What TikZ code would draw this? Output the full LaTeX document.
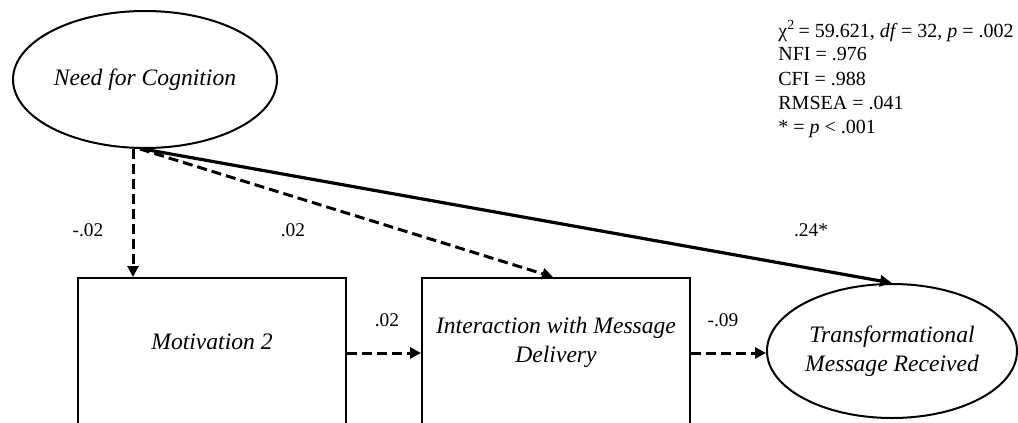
\documentclass[tikz,border=0pt]{standalone}
\usepackage{fontspec}
\setmainfont{Liberation Serif}
\usetikzlibrary{arrows.meta,shapes.geometric,calc}
\begin{document}
\begin{tikzpicture}[x=0.5pt,y=-0.5pt,
 latent/.style={draw,line width=1pt,ellipse,inner sep=0pt,font=\fontsize{11.8}{14.5}\selectfont\itshape,align=center},
 obs/.style={draw,line width=1pt,rectangle,inner sep=0pt},
 obstext/.style={font=\fontsize{11.8}{14.5}\selectfont\itshape,align=center,inner sep=0pt},
 coef/.style={font=\fontsize{9.7}{11}\selectfont,inner sep=0pt},
 stats/.style={font=\fontsize{10}{12}\selectfont,inner sep=0pt,anchor=base west},
 dasharrow/.style={line width=1.5pt,dash pattern=on 5pt off 2.5pt,-{Triangle[length=5.5pt,width=5.5pt]}},
 solidarrow/.style={line width=1.6pt,-{Triangle[length=6pt,width=5.5pt]}}]
\useasboundingbox (0,0) rectangle (1018,423);
\clip (0,0) rectangle (1018,423);

\node[latent,minimum width=132pt,minimum height=68.5pt] (nfc) at (145,79.5) {Need for Cognition};
\node[obs,minimum width=134pt,minimum height=75pt] (mot) at (212,353) {};
\node[obs,minimum width=134pt,minimum height=75pt] (inter) at (556,353) {};
\node[latent,minimum width=125pt,minimum height=67pt] (trans) at (892,351) {Transformational\\Message Received};

\node[obstext] (motT) at (212,342) {Motivation 2};
\node[obstext] (interT) at (556,342.5) {Interaction with Message\\Delivery};

\draw[dasharrow] ([xshift=-6pt]nfc.south) -- ([xshift=-6pt]nfc.south |- mot.north);
\draw[dasharrow] ([xshift=-2.5pt]nfc.south) -- ([xshift=-1.5pt]inter.north);
\draw[solidarrow] ([xshift=-1pt]nfc.south) -- (trans.north);
\draw[dasharrow] (mot.east) -- (inter.west);
\draw[dasharrow] (inter.east) -- (inter.east -| trans.west);

\node[coef] (c1) at (88,230) {-.02};
\node[coef] (c2) at (293,230) {.02};
\node[coef] (c3) at (811,230) {.24*};
\node[coef] (c4) at (387,320) {.02};
\node[coef] (c5) at (723,320) {-.09};

\node[stats] (st1) at (778,37) {χ\textsuperscript{2}\,= 59.621, \textit{df}\,= 32, \textit{p} = .002};
\node[stats] (st2) at (778,61) {NFI = .976};
\node[stats] (st3) at (778,85) {CFI = .988};
\node[stats] (st4) at (778,109) {RMSEA = .041};
\node[stats] (st5) at (778,133) {* = \textit{p} < .001};
\end{tikzpicture}
\end{document}
